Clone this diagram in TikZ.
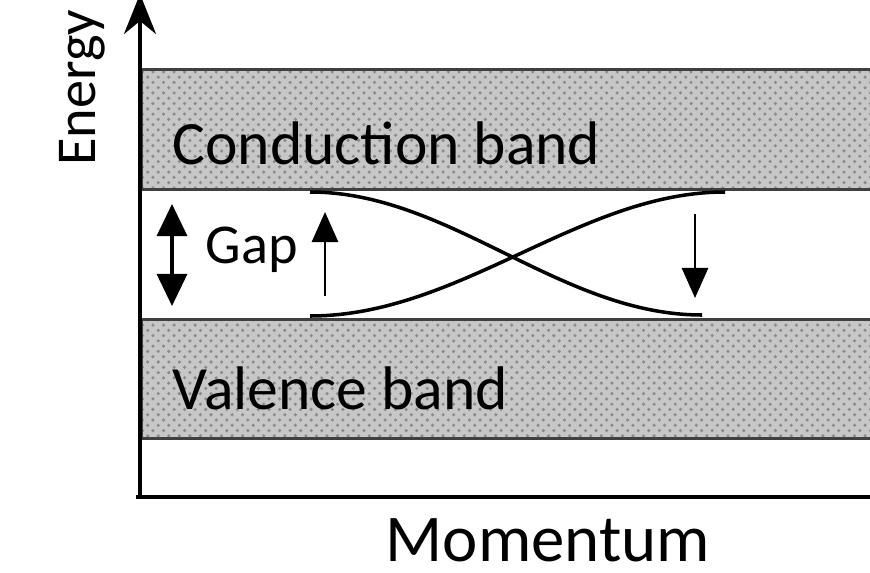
\documentclass[tikz,border=0pt]{standalone}
\usepackage{fontspec}
\setmainfont{Carlito}
\usepackage{tikz}
\usetikzlibrary{arrows.meta, positioning, patterns}
\tikzset{
  % Band diagram styles
  band/.style={rectangle, draw=black!75, line width=0.8pt, preaction={fill=black!22}, pattern=crosshatch dots, pattern color=black!45, minimum width=7.5cm, minimum height=1.2cm, anchor=north west, inner sep=0pt},
  bandlabel/.style={anchor=west, inner sep=0pt, font=\fontsize{17.5}{20}\selectfont},
  axis/.style={line width=0.9pt, -{Stealth[length=4mm, width=3.2mm]}},
  gaparrow/.style={line width=0.9pt, {Triangle[length=3.2mm, width=3mm]}-{Triangle[length=3.2mm, width=3mm]}},
  spinarrow/.style={line width=0.8pt, -{Triangle[length=3mm, width=2.6mm]}},
  dispersion/.style={line width=1pt},
}
\begin{document}
\begin{tikzpicture}[x=0.01cm, y=-0.01cm]
    \useasboundingbox (0,0) rectangle (870,573);
    \clip (0,0) rectangle (870,573);

    % Bands
    \node[band] (cb) at (140,68) {};
    \node[band, minimum height=1.19cm] (vb) at (140,318) {};
    \node[bandlabel] (cbl) at (172,143) {Conduction band};
    \node[bandlabel] (vbl) at (172,388) {Valence band};

    % Axes
    \coordinate (origin) at (140,497);
    \coordinate (ytop) at (140,-6);
    \coordinate (xend) at (880,497);
    \draw[axis] (origin) -- (ytop);
    \draw[line width=0.9pt] (136,497) -- (xend);
    \node[rotate=90, font=\fontsize{16}{18}\selectfont] (energy) at (82,88) {Energy};
    \node[font=\fontsize{19}{22}\selectfont] (momentum) at (548,540) {Momentum};

    % Crossing bands
    \coordinate (a1) at (310,192);
    \coordinate (a2) at (702,315);
    \coordinate (b1) at (310,316);
    \coordinate (b2) at (725,192);
    \draw[dispersion] (a1) .. controls (450,192) and (560,315) .. (a2);
    \draw[dispersion] (b1) .. controls (460,316) and (580,192) .. (b2);

    % Gap
    \coordinate (g1) at (172,204);
    \coordinate (g2) at (172,306);
    \draw[gaparrow] (g1) -- (g2);
    \node[font=\fontsize{16}{18}\selectfont, anchor=west, inner sep=0pt] (gap) at (205,250) {Gap};

    % Spin arrows
    \coordinate (u1) at (325,296);
    \coordinate (u2) at (325,212);
    \coordinate (d1) at (695,214);
    \coordinate (d2) at (695,298);
    \draw[spinarrow] (u1) -- (u2);
    \draw[spinarrow] (d1) -- (d2);
  \end{tikzpicture}
\end{document}
